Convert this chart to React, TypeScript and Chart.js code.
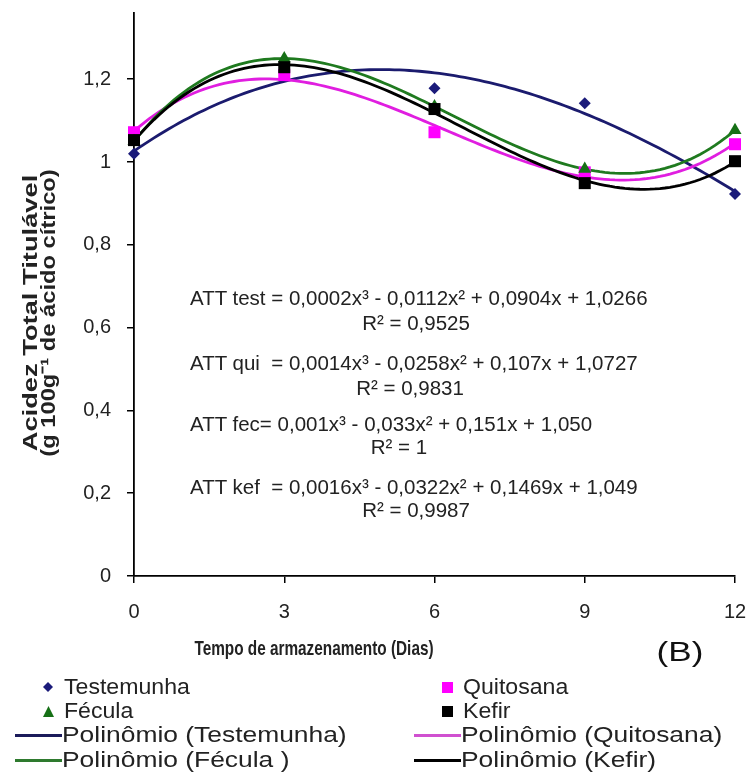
import React, { useEffect, useRef } from "react";
import { Chart, registerables } from "chart.js";

Chart.register(...registerables);

// ---- data ----
const days = [0, 3, 6, 9, 12];
const testemunha = [1.02, 1.22, 1.178, 1.142, 0.923];
const quitosana = [1.072, 1.21, 1.072, 0.975, 1.043];
const fecula = [1.05, 1.25, 1.134, 0.983, 1.077];
const kefir = [1.053, 1.229, 1.128, 0.949, 1.002];

const xTickValues = [0, 3, 6, 9, 12];
const yTickValues = [0, 0.2, 0.4, 0.6, 0.8, 1, 1.2];

const seriesNames = ["Testemunha", "Quitosana", "Fécula", "Kefir"];
const trendNames = [
  "Polinômio (Testemunha)",
  "Polinômio (Quitosana)",
  "Polinômio (Fécula )",
  "Polinômio (Kefir)",
];
const equations = [
  "ATT test = 0,0002x³ - 0,0112x² + 0,0904x + 1,0266",
  "ATT qui  = 0,0014x³ - 0,0258x² + 0,107x + 1,0727",
  "ATT fec= 0,001x³ - 0,033x² + 0,151x + 1,050",
  "ATT kef  = 0,0016x³ - 0,0322x² + 0,1469x + 1,049",
];
const rSquared = ["R² = 0,9525", "R² = 0,9831", "R² = 1", "R² = 0,9987"];

const xTitle = "Tempo de armazenamento (Dias)";
const yTitle1 = "Acidez Total Titulável";
const yTitle2 = "(g 100g⁻¹ de ácido cítrico)";
const panelLabel = "(B)";

// ---- styles ----
const colors = ["#1b1b7a", "#ff00ff", "#167016", "#000000"];
const lineColors = ["#1b1b6e", "#e01ee0", "#1f7a1f", "#000000"];
const pointStyles = ["rectRot", "rect", "triangle", "rect"];
const pointRadii = [6, 8.5, 7.5, 8.5];
const SANS = "'Liberation Sans', Arial, sans-serif";
const TEXT = "#222";

// least-squares cubic trend line (like a spreadsheet polynomial trendline)
function cubicFit(xs: number[], ys: number[]): number[] {
  const n = 4;
  const A: number[][] = [];
  for (let i = 0; i < n; i++) {
    const row: number[] = [];
    for (let j = 0; j < n; j++) row.push(xs.reduce((s, x) => s + Math.pow(x, i + j), 0));
    row.push(xs.reduce((s, x, k) => s + ys[k] * Math.pow(x, i), 0));
    A.push(row);
  }
  for (let c = 0; c < n; c++) {
    let p = c;
    for (let r = c + 1; r < n; r++) if (Math.abs(A[r][c]) > Math.abs(A[p][c])) p = r;
    const tmp = A[c];
    A[c] = A[p];
    A[p] = tmp;
    for (let r = 0; r < n; r++) {
      if (r === c) continue;
      const f = A[r][c] / A[c][c];
      for (let k = c; k <= n; k++) A[r][k] -= f * A[c][k];
    }
  }
  return A.map((row, i) => row[n] / row[i]);
}

function trendPoints(ys: number[]) {
  const coef = cubicFit(days, ys);
  const pts: { x: number; y: number }[] = [];
  const x0 = days[0];
  const x1 = days[days.length - 1];
  const steps = 120;
  for (let i = 0; i <= steps; i++) {
    const x = x0 + ((x1 - x0) * i) / steps;
    pts.push({ x, y: coef[0] + coef[1] * x + coef[2] * x * x + coef[3] * x * x * x });
  }
  return pts;
}

const allSeries = [testemunha, quitosana, fecula, kefir];

function Marker({ idx, size }: { idx: number; size: number }) {
  const c = colors[idx];
  const s = size;
  let shape: React.ReactNode;
  if (pointStyles[idx] === "rectRot") {
    shape = <polygon points={`${s / 2},0 ${s},${s / 2} ${s / 2},${s} 0,${s / 2}`} fill={c} />;
  } else if (pointStyles[idx] === "triangle") {
    shape = <polygon points={`${s / 2},0 ${s},${s} 0,${s}`} fill={c} />;
  } else {
    shape = <rect x={0} y={0} width={s} height={s} fill={c} />;
  }
  return (
    <svg width={s} height={s} style={{ display: "block" }}>
      {shape}
    </svg>
  );
}

export default function App() {
  const canvasRef = useRef<HTMLCanvasElement | null>(null);

  useEffect(() => {
    const canvas = canvasRef.current;
    if (!canvas) return;
    const scatterSets = allSeries.map((ys, i) => ({
      type: "scatter" as const,
      label: seriesNames[i],
      data: days.map((d, k) => ({ x: d, y: ys[k] })),
      pointStyle: pointStyles[i] as any,
      pointRadius: pointRadii[i],
      pointBackgroundColor: colors[i],
      pointBorderColor: colors[i],
      pointBorderWidth: 0,
      showLine: false,
      clip: false,
      order: 4 - i,
    }));
    const trendSets = allSeries.map((ys, i) => ({
      type: "scatter" as const,
      label: trendNames[i],
      data: trendPoints(ys),
      borderColor: lineColors[i],
      backgroundColor: lineColors[i],
      borderWidth: 2.8,
      pointRadius: 0,
      pointHoverRadius: 0,
      showLine: true,
      tension: 0,
      fill: false,
      clip: false,
      order: 10 + (i === 3 ? 0 : 4 - i),
    }));

    const tickFont = { family: SANS, size: 20 };
    const chart = new Chart(canvas, {
      type: "scatter",
      data: { datasets: [...trendSets, ...scatterSets] as any },
      options: {
        animation: false,
        responsive: false,
        maintainAspectRatio: false,
        devicePixelRatio: 1,
        layout: { padding: { left: 0, right: 15, top: 13, bottom: 0 } },
        plugins: { legend: { display: false }, tooltip: { enabled: false } },
        scales: {
          x: {
            type: "linear",
            min: 0,
            max: 12,
            afterBuildTicks: (scale: any) => {
              scale.ticks = xTickValues.map((v) => ({ value: v }));
            },
            afterFit: (scale: any) => {
              scale.height = 207;
              scale.paddingLeft = 0;
              scale.paddingRight = 0;
            },
            ticks: {
              font: tickFont,
              color: TEXT,
              padding: 17,
              maxRotation: 0,
              callback: (v: any) => String(v),
            },
            grid: {
              display: true,
              drawOnChartArea: false,
              drawTicks: true,
              tickLength: 7,
              color: "#000",
              lineWidth: 1.5,
            },
            border: { display: true, color: "#000", width: 1.8 },
          },
          y: {
            type: "linear",
            min: 0,
            max: 1.36,
            afterBuildTicks: (scale: any) => {
              scale.ticks = yTickValues.map((v) => ({ value: v }));
            },
            afterFit: (scale: any) => {
              scale.width = 134;
              scale.paddingTop = 0;
              scale.paddingBottom = 0;
            },
            ticks: {
              font: tickFont,
              color: TEXT,
              padding: 16,
              callback: (v: any) => String(Math.round(Number(v) * 10) / 10).replace(".", ","),
            },
            grid: {
              display: true,
              drawOnChartArea: false,
              drawTicks: true,
              tickLength: 7,
              color: "#000",
              lineWidth: 1.5,
            },
            border: { display: true, color: "#000", width: 1.8 },
          },
        },
      } as any,
    });
    return () => chart.destroy();
  }, []);

  const eqTop = [298, 363, 424, 487];
  const rCenters = [
    [416, 323],
    [410, 388],
    [399, 447],
    [416, 510],
  ];
  const eqStyle: React.CSSProperties = {
    position: "absolute",
    fontFamily: SANS,
    fontSize: 20.5,
    color: TEXT,
    whiteSpace: "pre",
    lineHeight: "22px",
  };
  const legendRows = [687, 711, 735, 760];
  const legendText: React.CSSProperties = {
    position: "absolute",
    fontFamily: SANS,
    fontSize: 22,
    color: TEXT,
    whiteSpace: "pre",
    lineHeight: "24px",
    transformOrigin: "left center",
  };

  const legendItems: { col: number; row: number; kind: "marker" | "line"; idx: number; text: string }[] = [
    { col: 0, row: 0, kind: "marker", idx: 0, text: seriesNames[0] },
    { col: 1, row: 0, kind: "marker", idx: 1, text: seriesNames[1] },
    { col: 0, row: 1, kind: "marker", idx: 2, text: seriesNames[2] },
    { col: 1, row: 1, kind: "marker", idx: 3, text: seriesNames[3] },
    { col: 0, row: 2, kind: "line", idx: 0, text: trendNames[0] },
    { col: 1, row: 2, kind: "line", idx: 1, text: trendNames[1] },
    { col: 0, row: 3, kind: "line", idx: 2, text: trendNames[2] },
    { col: 1, row: 3, kind: "line", idx: 3, text: trendNames[3] },
  ];
  const colX = [15, 414];
  const markerSizes = [10, 11, 11, 11];
  const legendLineColors = ["#1b1b5a", "#d050d0", "#2e7a2e", "#000000"];

  return (
    <div
      style={{
        position: "absolute",
        left: 0,
        top: 0,
        width: 750,
        height: 783,
        background: "#fff",
        overflow: "hidden",
      }}
    >
      <canvas
        ref={canvasRef}
        width={750}
        height={783}
        style={{ position: "absolute", left: 0, top: 0, width: 750, height: 783 }}
      />
      {/* y-axis title */}
      {[yTitle1, yTitle2].map((t, i) => (
        <div
          key={t}
          style={{
            position: "absolute",
            left: i === 0 ? 30 : 48,
            top: 313,
            transform: `translate(-50%, -50%) rotate(-90deg) scaleX(${i === 0 ? 1.3 : 1.13})`,
            fontFamily: SANS,
            fontWeight: "bold",
            fontSize: 21,
            color: TEXT,
            whiteSpace: "pre",
            lineHeight: "20px",
          }}
        >
          {t}
        </div>
      ))}
      {/* x-axis title */}
      <div
        style={{
          position: "absolute",
          left: 314,
          top: 648,
          transform: "translate(-50%, -50%) scaleX(0.73)",
          fontFamily: SANS,
          fontWeight: "bold",
          fontSize: 21,
          color: TEXT,
          whiteSpace: "pre",
        }}
      >
        {xTitle}
      </div>
      <div
        style={{
          position: "absolute",
          left: 680,
          top: 652,
          transform: "translate(-50%, -50%) scaleX(1.3)",
          fontFamily: SANS,
          fontSize: 27,
          color: "#111",
          whiteSpace: "pre",
        }}
      >
        {panelLabel}
      </div>
      {/* trendline equations */}
      {equations.map((e, i) => (
        <div key={e} style={{ ...eqStyle, left: 190, top: eqTop[i] - 11 }}>
          {e}
        </div>
      ))}
      {rSquared.map((r, i) => (
        <div
          key={r}
          style={{
            ...eqStyle,
            left: rCenters[i][0],
            top: rCenters[i][1],
            transform: "translate(-50%, -50%)",
          }}
        >
          {r}
        </div>
      ))}
      {/* legend */}
      {legendItems.map((it) => {
        const x0 = colX[it.col];
        const cy = legendRows[it.row];
        if (it.kind === "marker") {
          const s = markerSizes[it.idx];
          return (
            <React.Fragment key={it.text}>
              <div style={{ position: "absolute", left: x0 + 33 - s / 2, top: cy - s / 2 }}>
                <Marker idx={it.idx} size={s} />
              </div>
              <div style={{ ...legendText, left: x0 + 49, top: cy - 12, transform: "scaleX(1.05)" }}>
                {it.text}
              </div>
            </React.Fragment>
          );
        }
        return (
          <React.Fragment key={it.text}>
            <div
              style={{
                position: "absolute",
                left: x0,
                top: cy - 1.5,
                width: 47,
                height: 3,
                background: legendLineColors[it.idx],
              }}
            />
            <div style={{ ...legendText, left: x0 + 47, top: cy - 12, transform: "scaleX(1.2)" }}>
              {it.text}
            </div>
          </React.Fragment>
        );
      })}
    </div>
  );
}
